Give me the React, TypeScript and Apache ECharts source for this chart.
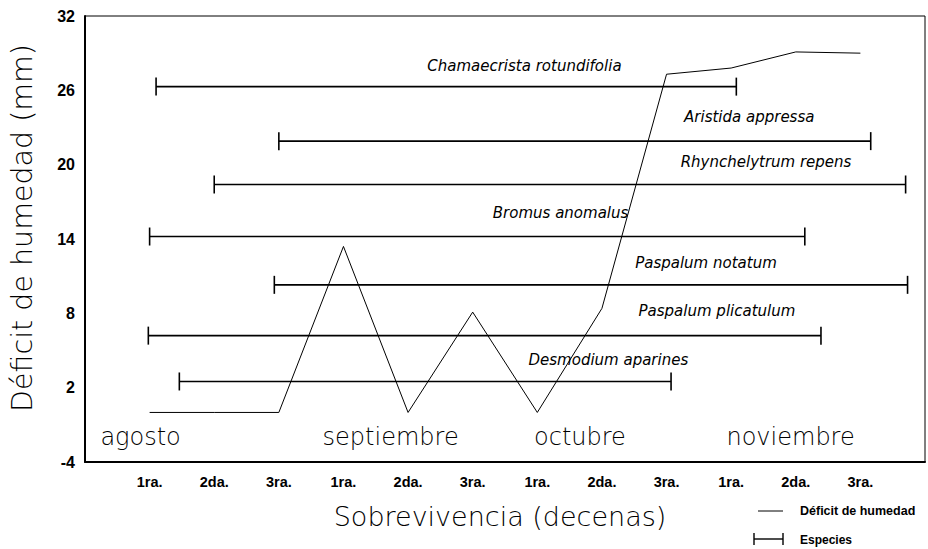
import React, { useEffect, useRef } from "react";
import * as echarts from "echarts";

// Decade positions (0..11) with their labels
const decadeLabels = ["1ra.", "2da.", "3ra.", "1ra.", "2da.", "3ra.", "1ra.", "2da.", "3ra.", "1ra.", "2da.", "3ra."];
const yTicks = [-4, 2, 8, 14, 20, 26, 32];

// Déficit de humedad (mm) per decade
const deficitX = [0, 1, 2, 3, 4, 5, 6, 7, 8, 9, 10, 11];
const deficitY = [0, 0, 0, 13.4, 0, 8.1, 0, 8.4, 27.3, 27.8, 29.1, 29.0];

// Species survival ranges
const species = [
  "Chamaecrista rotundifolia",
  "Aristida appressa",
  "Rhynchelytrum repens",
  "Bromus anomalus",
  "Paspalum notatum",
  "Paspalum plicatulum",
  "Desmodium aparines",
];
const speciesLevel = [26.3, 21.9, 18.4, 14.2, 10.3, 6.2, 2.5];
const speciesStart = [0.1, 2.0, 1.0, 0.0, 1.93, -0.02, 0.46];
const speciesEnd = [9.08, 11.16, 11.7, 10.14, 11.73, 10.39, 8.07];
const speciesLabelX = [5.8, 9.28, 9.54, 6.36, 8.61, 8.78, 7.1];
const speciesLabelY = [28.0, 23.85, 20.2, 16.1, 12.05, 8.2, 4.2];

// Month labels
const months = ["agosto", "septiembre", "octubre", "noviembre"];
const monthX = [-0.14, 3.73, 6.66, 9.92];
const monthY = [-2, -2, -2, -2];

const thinFont = "DejaVu Sans";

export default function App() {
  const ref = useRef<HTMLDivElement>(null);

  useEffect(() => {
    if (!ref.current) return;
    const chart = echarts.init(ref.current, null, { renderer: "svg" });

    const barData = species.map((_, i) => [speciesStart[i], speciesLevel[i], speciesEnd[i]]);
    const labelData = species.map((_, i) => [speciesLabelX[i], speciesLabelY[i]]);
    const monthData = months.map((_, i) => [monthX[i], monthY[i]]);

    const option: any = {
      animation: false,
      backgroundColor: "#fff",
      grid: {
        left: 83,
        top: 16,
        right: 3,
        bottom: 87,
        show: true,
        borderColor: "#000",
        borderWidth: 1,
      },
      xAxis: {
        type: "value",
        min: -1,
        max: 12,
        interval: 1,
        name: "Sobrevivencia (decenas)",
        nameLocation: "middle",
        nameGap: 41,
        nameTextStyle: { fontSize: 27, fontFamily: thinFont, fontWeight: 200, color: "#000", padding: [0, 10, 0, 0] },
        axisLine: { show: true, onZero: false, lineStyle: { color: "#000", width: 2 } },
        axisTick: { show: false },
        splitLine: { show: false },
        axisLabel: {
          margin: 12,
          fontSize: 14.5,
          fontWeight: "bold",
          fontFamily: "Liberation Sans",
          color: "#000",
          formatter: (v: number) => (v >= 0 && v < decadeLabels.length ? decadeLabels[v] : ""),
        },
      },
      yAxis: {
        type: "value",
        min: yTicks[0],
        max: yTicks[yTicks.length - 1],
        interval: 6,
        name: "Déficit de humedad (mm)",
        nameLocation: "middle",
        nameRotate: 90,
        nameGap: 48,
        nameTextStyle: { fontSize: 28.5, fontFamily: thinFont, fontWeight: 200, color: "#000", padding: [0, 0, 0, 22] },
        axisLine: { show: true, onZero: false, lineStyle: { color: "#000", width: 2 } },
        axisTick: { show: false },
        splitLine: { show: false },
        axisLabel: {
          margin: 10,
          fontSize: 16,
          fontWeight: "bold",
          fontFamily: "Liberation Sans",
          color: "#000",
        },
      },
      series: [
        {
          type: "line",
          name: "Déficit de humedad",
          data: deficitX.map((x, i) => [x, deficitY[i]]),
          showSymbol: false,
          symbol: "none",
          lineStyle: { color: "#000", width: 1 },
          z: 3,
        },
        {
          type: "custom",
          name: "Especies",
          data: barData,
          encode: { x: [0, 2], y: 1 },
          renderItem: (params: any, api: any) => {
            const x0 = api.value(0);
            const y = api.value(1);
            const x1 = api.value(2);
            const p0 = api.coord([x0, y]);
            const p1 = api.coord([x1, y]);
            const h = 9;
            const style = { stroke: "#000", lineWidth: 1.6 };
            return {
              type: "group",
              children: [
                { type: "line", shape: { x1: p0[0], y1: p0[1], x2: p1[0], y2: p1[1] }, style },
                { type: "line", shape: { x1: p0[0], y1: p0[1] - h, x2: p0[0], y2: p0[1] + h }, style },
                { type: "line", shape: { x1: p1[0], y1: p1[1] - h, x2: p1[0], y2: p1[1] + h }, style },
              ],
            };
          },
          z: 4,
        },
        {
          type: "custom",
          data: labelData,
          encode: { x: 0, y: 1 },
          renderItem: (params: any, api: any) => {
            const p = api.coord([api.value(0), api.value(1)]);
            return {
              type: "text",
              x: p[0],
              y: p[1],
              style: {
                text: species[params.dataIndex],
                fill: "#000",
                fontSize: 15,
                fontStyle: "italic",
                fontFamily: "DejaVu Sans",
                align: "center",
                verticalAlign: "middle",
              },
            };
          },
          z: 5,
        },
        {
          type: "custom",
          data: monthData,
          encode: { x: 0, y: 1 },
          renderItem: (params: any, api: any) => {
            const p = api.coord([api.value(0), api.value(1)]);
            return {
              type: "text",
              x: p[0],
              y: p[1],
              style: {
                text: months[params.dataIndex],
                fill: "#000",
                fontSize: 24,
                fontFamily: thinFont,
                fontWeight: 200,
                align: "center",
                verticalAlign: "middle",
              },
            };
          },
          z: 5,
        },
      ],
      graphic: [
        { type: "line", shape: { x1: 758, y1: 511, x2: 783, y2: 511 }, style: { stroke: "#000", lineWidth: 1 } },
        {
          type: "text",
          x: 800,
          y: 511,
          style: { text: "Déficit de humedad", fontSize: 12.5, fontWeight: "bold", fontFamily: "Liberation Sans", fill: "#000", verticalAlign: "middle" },
        },
        { type: "line", shape: { x1: 754, y1: 539, x2: 783, y2: 539 }, style: { stroke: "#000", lineWidth: 1.4 } },
        { type: "line", shape: { x1: 754, y1: 533, x2: 754, y2: 545 }, style: { stroke: "#000", lineWidth: 1.4 } },
        { type: "line", shape: { x1: 783, y1: 533, x2: 783, y2: 545 }, style: { stroke: "#000", lineWidth: 1.4 } },
        {
          type: "text",
          x: 800,
          y: 540,
          style: { text: "Especies", fontSize: 12, fontWeight: "bold", fontFamily: "Liberation Sans", fill: "#000", verticalAlign: "middle" },
        },
      ],
    };

    chart.setOption(option);
    return () => chart.dispose();
  }, []);

  return <div ref={ref} style={{ width: 928, height: 549, position: "absolute", left: 0, top: 0 }} />;
}
